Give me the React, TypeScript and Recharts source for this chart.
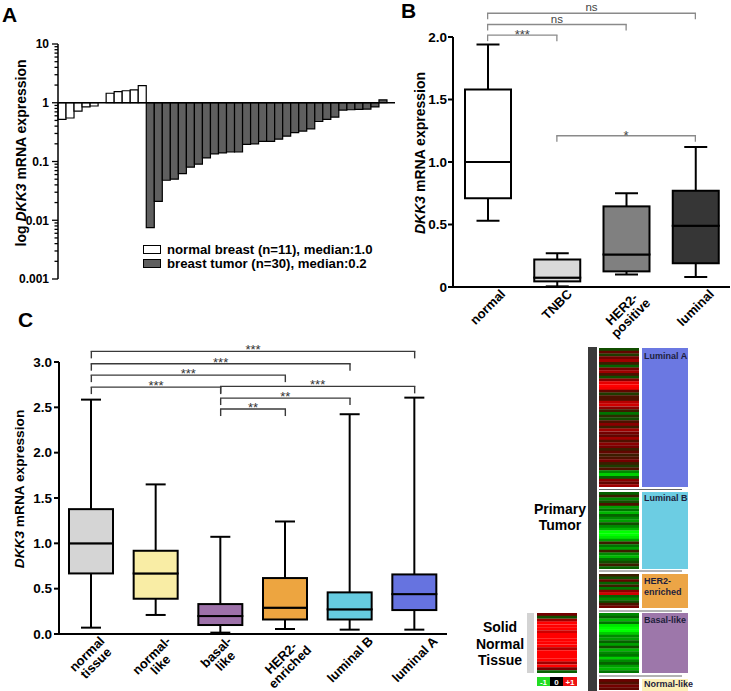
import React from 'react';
import { BarChart, Bar, XAxis, YAxis, ReferenceLine, Legend, Cell } from 'recharts';

const FONT = '"Liberation Sans", Arial, Helvetica, sans-serif';

// ---------------- Panel A data ----------------
const A_NORMAL = [0.52, 0.55, 0.72, 0.85, 0.88, 1.0, 1.45, 1.55, 1.6, 1.65, 1.95];
const A_TUMOR = [0.0075, 0.021, 0.048, 0.05, 0.062, 0.08, 0.09, 0.115, 0.135, 0.14, 0.145, 0.145, 0.195, 0.2, 0.22, 0.22, 0.24, 0.27, 0.31, 0.33, 0.36, 0.48, 0.52, 0.57, 0.75, 0.76, 0.77, 0.78, 0.85, 1.12];
const A_LEGEND = ['normal breast (n=11), median:1.0', 'breast tumor (n=30), median:0.2'];
const A_MAJOR = [0.001, 0.01, 0.1, 1, 10];
const A_MINOR_STEPS = [2, 3, 4, 5, 6, 7, 8, 9];

// ---------------- Panel B data ----------------
const B_CATS = ['normal', 'TNBC', 'HER2-positive', 'luminal'];
const B_TICK_LINES = [['normal'], ['TNBC'], ['HER2-', 'positive'], ['luminal']];
const B_MIN = [0.53, 0.005, 0.1, 0.08];
const B_Q1 = [0.71, 0.045, 0.125, 0.19];
const B_MED = [1.0, 0.075, 0.26, 0.49];
const B_Q3 = [1.58, 0.22, 0.645, 0.77];
const B_MAX = [1.94, 0.27, 0.75, 1.12];
const B_TICKS = [0, 0.5, 1, 1.5, 2];
const B_SIG = [
  { from: 'normal', to: 'luminal', level: 2.19, label: 'ns' },
  { from: 'normal', to: 'HER2-positive', level: 2.1, label: 'ns' },
  { from: 'normal', to: 'TNBC', level: 2.015, label: '***' },
  { from: 'TNBC', to: 'luminal', level: 1.21, label: '*' },
];

// ---------------- Panel C data ----------------
const C_CATS = ['normal tissue', 'normal-like', 'basal-like', 'HER2-enriched', 'luminal B', 'luminal A'];
const C_TICK_LINES = [['normal', 'tissue'], ['normal-', 'like'], ['basal-', 'like'], ['HER2-', 'enriched'], ['luminal B'], ['luminal A']];
const C_MIN = [0.07, 0.21, 0.015, 0.055, 0.048, 0.048];
const C_Q1 = [0.668, 0.389, 0.099, 0.16, 0.16, 0.264];
const C_MED = [1.0, 0.668, 0.198, 0.29, 0.272, 0.44];
const C_Q3 = [1.377, 0.918, 0.33, 0.617, 0.459, 0.657];
const C_MAX = [2.585, 1.65, 1.072, 1.241, 2.424, 2.607];
const C_TICKS = [0, 0.5, 1, 1.5, 2, 2.5, 3];
const C_SIG = [
  { from: 'normal tissue', to: 'luminal A', level: 3.117, label: '***' },
  { from: 'normal tissue', to: 'luminal B', level: 2.981, label: '***' },
  { from: 'normal tissue', to: 'HER2-enriched', level: 2.855, label: '***' },
  { from: 'normal tissue', to: 'basal-like', level: 2.723, label: '***' },
  { from: 'basal-like', to: 'luminal A', level: 2.731, label: '***' },
  { from: 'basal-like', to: 'luminal B', level: 2.602, label: '**' },
  { from: 'basal-like', to: 'HER2-enriched', level: 2.481, label: '**' },
];

// ---------------- Heatmap data (-1 green .. 0 .. +1 red) ----------------
const HEAT_LUM_A = [-0.2, 0.3, -0.1, 0.4, 0.6, 0.1, -0.3, 0.4, 0.6, 0.2, -0.2, 0.5, 0.9, 1.0, 0.95, 0.3, -0.1, 0.2, 0.2, 0.7, 0.8, 0.5, 0.1, -0.4, 0.0, -0.2, 0.2, 0.5, 0.1, 0.6, 0.4, 0.3, 0.6, 0.2, 0.5, 0.4, 0.1, 0.3, 0.1, 0.2, 0.4, 0.1, -0.1, 0.2, -0.5, -0.8, -0.3, 0.5, 0.3, 0.6];
const HEAT_LUM_B = [-0.3, 0.1, -0.5, -0.2, 0.2, -0.6, -0.4, -0.7, -0.3, -0.5, -0.6, -0.2, -0.5, -0.7, -1.0, -1.0, -0.9, -0.6, 0.1, -0.4, -0.6, 0.1, -0.5, -0.7, -0.4, -0.2, 0.1, -0.3];
const HEAT_HER2 = [0.1, -0.2, 0.3, -0.3, 0.1, -0.4, 0.5, 0.8, -0.3, -0.5, -0.2, 0.2, 0.4];
const HEAT_BASAL = [-0.5, -0.3, -0.7, -0.4, -0.9, -1.0, -1.0, -0.8, -0.5, -0.6, -0.3, -0.6, -0.2, -0.7, -0.5, -0.4, -0.8, -0.5, -0.3, -0.6, -0.7, -0.4];
const HEAT_NORMAL_LIKE = [0.35, 0.2, 0.4, 0.3];
const HEAT_NORMAL_TISSUE = [0.4, -0.2, 0.6, 1.0, 1.0, 1.0, 0.8, 1.0, 1.0, 1.0, 1.0, 1.0, 0.7, 1.0, 1.0, 1.0, 1.0, 0.6, 1.0, 0.4, -0.3];

// ---------------- styles ----------------
const A_TUMOR_FILL = '#5f5f5f';
const B_FILLS = ['#ffffff', '#d9d9d9', '#808080', '#363636'];
const C_FILLS = ['#d5d5d5', '#f9eda5', '#9d71a9', '#eda540', '#66cbe0', '#6673e0'];

const clamp = (x: number) => Math.max(0, Math.min(1, x));
const heatColor = (v: number) => {
  const r = Math.round(255 * Math.pow(clamp((v + 0.4) / 1.4), 1.4));
  const g = Math.round(255 * Math.pow(clamp((0.4 - v) / 1.4), 1.4));
  return `rgb(${r},${g},0)`;
};

const BW: Record<string, number> = {
  a: 0.556, b: 0.611, c: 0.556, d: 0.611, e: 0.556, f: 0.333, g: 0.611, h: 0.611, i: 0.278, k: 0.556, l: 0.278,
  m: 0.889, n: 0.611, o: 0.611, p: 0.611, r: 0.389, s: 0.556, t: 0.333, u: 0.611, v: 0.556, y: 0.556,
  A: 0.722, B: 0.722, C: 0.722, E: 0.667, H: 0.722, N: 0.722, R: 0.722, T: 0.611, '-': 0.333, ' ': 0.278, '2': 0.556,
};
const textW = (s: string, fs: number) => s.split('').reduce((acc, ch) => acc + (BW[ch] ?? 0.6), 0) * fs;

// ---------------- helpers ----------------
const yTitle = (x: number, y: number, prefix: string, fs: number) => () => (
  <text x={x} y={y} transform={`rotate(-90 ${x} ${y})`} textAnchor="middle" dominantBaseline="central"
    fontFamily={FONT} fontWeight="bold" fontSize={fs} fill="#000">
    {prefix}<tspan fontStyle="italic">DKK3</tspan> mRNA expression
  </text>
);

const makeXTick = (cats: string[], lines: string[][], fs: number) => (p: any) => {
  const idx = cats.indexOf(p.payload.value);
  const ls = lines[idx] || [String(p.payload.value)];
  const lh = fs * 0.98;
  const W = Math.max(...ls.map((l) => textW(l, fs)));
  const H = (ls.length - 1) * lh + fs * 0.9;
  const off = 0.5 + (0.7071 * (W + H)) / 2;
  return (
    <g transform={`translate(${p.x},${p.y + off})`}>
      <text transform="rotate(-45)" textAnchor="middle" fontFamily={FONT} fontWeight="bold" fontSize={fs} fill="#000">
        {ls.map((l, i) => (
          <tspan key={i} x={0} y={(i - (ls.length - 1) / 2) * lh} dy="0.35em">{l}</tspan>
        ))}
      </text>
    </g>
  );
};

const Whisker = ({ x, y, width, height, cap, sw, end }: any) => {
  if (x == null || y == null || !isFinite(height)) return null;
  const cx = x + width / 2;
  const yc = end === 'top' ? y : y + height;
  return (
    <g>
      <line x1={cx} x2={cx} y1={y} y2={y + height} stroke="#000" strokeWidth={sw} />
      <line x1={cx - cap / 2} x2={cx + cap / 2} y1={yc} y2={yc} stroke="#000" strokeWidth={sw} />
    </g>
  );
};

const boxBars = (cats: string[], fills: string[], cap: number, sw: number) => {
  const fillOf = (p: any) => fills[Math.max(0, cats.indexOf(p?.payload?.cat))] ?? fills[p.index] ?? '#fff';
  const boxShape = (p: any) =>
    p.height > 0 || p.height < 0 ? (
      <rect x={p.x} y={p.y} width={p.width} height={Math.abs(p.height)} fill={fillOf(p)} stroke="#000" strokeWidth={sw} />
    ) : null;
  return [
    <Bar key="base" dataKey="base" stackId="box" fill="transparent" stroke="none" isAnimationActive={false} />,
    <Bar key="wl" dataKey="wLow" stackId="box" isAnimationActive={false} shape={(p: any) => <Whisker {...p} cap={cap} sw={sw} end="bottom" />} />,
    <Bar key="bl" dataKey="boxLow" stackId="box" isAnimationActive={false} shape={boxShape} />,
    <Bar key="bh" dataKey="boxHigh" stackId="box" isAnimationActive={false} shape={boxShape} />,
    <Bar key="wh" dataKey="wHigh" stackId="box" isAnimationActive={false} shape={(p: any) => <Whisker {...p} cap={cap} sw={sw} end="top" />} />,
  ];
};

const sigLabel = (text: string, dy: number, fs: number, color: string, weight: string) => (props: any) => {
  const vb = props.viewBox || {};
  const x = (vb.x ?? 0) + (vb.width ?? 0) / 2;
  const y = (vb.y ?? 0) + dy;
  return (
    <text x={x} y={y} textAnchor="middle" fontFamily={FONT} fontSize={fs} fontWeight={weight} fill={color}>{text}</text>
  );
};

const sigLines = (sig: any[], drop: number, color: string, sw: number, opts: { starDy: number; nsDy: number; starFs: number; nsFs: number; textColor: string }) =>
  sig.flatMap((s, i) => [
    <ReferenceLine key={`h${i}`} segment={[{ x: s.from, y: s.level }, { x: s.to, y: s.level }]} stroke={color} strokeWidth={sw}
      strokeLinecap="square" ifOverflow="visible"
      label={sigLabel(s.label, s.label === 'ns' ? opts.nsDy : opts.starDy, s.label === 'ns' ? opts.nsFs : opts.starFs, opts.textColor, 'normal')} />,
    <ReferenceLine key={`l${i}`} segment={[{ x: s.from, y: s.level }, { x: s.from, y: s.level - drop }]} stroke={color} strokeWidth={sw} ifOverflow="visible" />,
    <ReferenceLine key={`r${i}`} segment={[{ x: s.to, y: s.level }, { x: s.to, y: s.level - drop }]} stroke={color} strokeWidth={sw} ifOverflow="visible" />,
  ]);

const boxTable = (cats: string[], mn: number[], q1: number[], md: number[], q3: number[], mx: number[]) =>
  cats.map((c, i) => ({
    cat: c,
    base: mn[i],
    wLow: q1[i] - mn[i],
    boxLow: md[i] - q1[i],
    boxHigh: q3[i] - md[i],
    wHigh: mx[i] - q3[i],
  }));

const numTickStyle = { fill: '#000', fontSize: 13.5, fontWeight: 'bold', fontFamily: FONT } as any;

// ---------------- Panel A ----------------
const aData = [
  ...A_NORMAL.map((v, i) => ({ id: `N${i + 1}`, group: 'normal', range: [1, v] })),
  ...A_TUMOR.map((v, i) => ({ id: `T${i + 1}`, group: 'tumor', range: [1, v] })),
];
const aTicks = [
  ...A_MAJOR,
  ...A_MAJOR.slice(0, -1).flatMap((d) => A_MINOR_STEPS.map((s) => Number((d * s).toPrecision(3)))),
].sort((a, b) => a - b);

const ATick = (p: any) => {
  const v = p.payload.value;
  const ax = p.x;
  const major = A_MAJOR.includes(v);
  return (
    <g>
      <line x1={ax - (major ? 6 : 3.5)} x2={ax} y1={p.y} y2={p.y} stroke="#000" strokeWidth={1.3} />
      {major && (
        <text x={ax - 9} y={p.y} dy="0.36em" textAnchor="end" fontFamily={FONT} fontWeight="bold" fontSize={12} fill="#000">
          {String(v)}
        </text>
      )}
    </g>
  );
};

const ALegend = () => (
  <div style={{ fontFamily: FONT, fontWeight: 700, fontSize: 13.2, color: '#000' }}>
    {A_LEGEND.map((t, i) => (
      <div key={i} style={{ display: 'flex', alignItems: 'center', height: 14, whiteSpace: 'nowrap' }}>
        <span style={{ display: 'inline-block', width: 16, height: 7, border: '1.5px solid #000', background: i === 0 ? '#fff' : A_TUMOR_FILL, marginRight: 6 }} />
        {t}
      </div>
    ))}
  </div>
);

const PanelA = () => (
  <BarChart width={400} height={290} data={aData} margin={{ top: 44, right: 5, bottom: 11, left: 0 }} barCategoryGap={0} barGap={0}>
    <XAxis dataKey="id" hide padding={{ left: 0, right: 8 }} />
    <YAxis type="number" scale="log" domain={[0.001, 10]} allowDataOverflow ticks={aTicks} interval={0} width={58}
      axisLine={{ stroke: '#000', strokeWidth: 1.5 }} tickLine={false} tickSize={0} tickMargin={0} tick={ATick}
      label={yTitle(21, 153, 'log ', 14)} />
    <Bar dataKey="range" isAnimationActive={false} stroke="#000" strokeWidth={1.2}>
      {aData.map((d, i) => (
        <Cell key={i} fill={d.group === 'normal' ? '#ffffff' : A_TUMOR_FILL} />
      ))}
    </Bar>
    <ReferenceLine y={1} stroke="#000" strokeWidth={1.6} ifOverflow="visible" />
    <Legend verticalAlign="middle" align="center" layout="horizontal"
      wrapperStyle={{ left: 143, top: 242, width: 260, height: 30 }} content={() => <ALegend />} />
  </BarChart>
);

// ---------------- Panel B ----------------
const bData = boxTable(B_CATS, B_MIN, B_Q1, B_MED, B_Q3, B_MAX);
const PanelB = () => (
  <BarChart width={361} height={345} data={bData} margin={{ top: 37, right: 1, bottom: 0, left: 0 }} barSize={46}>
    <XAxis dataKey="cat" height={58} interval={0} axisLine={{ stroke: '#000', strokeWidth: 2 }} tickLine={false} tickSize={0} tickMargin={0}
      tick={makeXTick(B_CATS, B_TICK_LINES, 13)} />
    <YAxis type="number" domain={[0, 2]} ticks={B_TICKS} interval={0} width={83}
      axisLine={{ stroke: '#000', strokeWidth: 2 }} tickLine={{ stroke: '#000', strokeWidth: 2 }} tickSize={5} tickMargin={1}
      tick={numTickStyle} tickFormatter={(v: number) => (v === 0 ? '0' : v.toFixed(1))}
      label={yTitle(50, 153, '', 14)} />
    {boxBars(B_CATS, B_FILLS, 23, 2)}
    {sigLines(B_SIG, 0.048, '#8a8a8a', 1.3, { starDy: 4, nsDy: -2, starFs: 13, nsFs: 11.5, textColor: '#444' })}
  </BarChart>
);

// ---------------- Panel C ----------------
const cData = boxTable(C_CATS, C_MIN, C_Q1, C_MED, C_Q3, C_MAX);
const PanelC = () => (
  <BarChart width={460} height={361} data={cData} margin={{ top: 32, right: 13, bottom: 0, left: 0 }} barSize={44}>
    <XAxis dataKey="cat" height={57} interval={0} axisLine={{ stroke: '#000', strokeWidth: 2 }} tickLine={false} tickSize={0} tickMargin={0}
      tick={makeXTick(C_CATS, C_TICK_LINES, 13)} />
    <YAxis type="number" domain={[0, 3]} ticks={C_TICKS} interval={0} width={59}
      axisLine={{ stroke: '#000', strokeWidth: 2 }} tickLine={{ stroke: '#000', strokeWidth: 2 }} tickSize={5} tickMargin={2}
      tick={numTickStyle} tickFormatter={(v: number) => v.toFixed(1)}
      label={yTitle(19, 159, '', 13.7)} />
    {boxBars(C_CATS, C_FILLS, 20, 2)}
    {sigLines(C_SIG, 0.077, '#3a3a3a', 1.4, { starDy: 3, nsDy: -2, starFs: 13, nsFs: 11.5, textColor: '#333' })}
  </BarChart>
);

// ---------------- Heatmap strips ----------------
const HeatStrip = ({ values, left, top, width, height }: { values: number[]; left: number; top: number; width: number; height: number }) => {
  const data = values.map((v, i) => ({ row: i, v, full: 1 }));
  return (
    <div style={{ position: 'absolute', left, top, width, height }}>
      <BarChart layout="vertical" width={width} height={height} data={data} margin={{ top: 0, right: 0, bottom: 0, left: 0 }} barCategoryGap={0} barGap={0}>
        <XAxis type="number" hide domain={[0, 1]} />
        <YAxis type="category" dataKey="row" hide />
        <Bar dataKey="full" isAnimationActive={false}>
          {data.map((d, i) => (
            <Cell key={i} fill={heatColor(d.v)} />
          ))}
        </Bar>
      </BarChart>
    </div>
  );
};

const Overlay = () => (
  <svg width={731} height={691} style={{ position: 'absolute', left: 0, top: 0, pointerEvents: 'none' }}>
    <g fontFamily={FONT} fontWeight="bold" fill="#000">
      <text x={2} y={22} fontSize={21}>A</text>
      <text x={401} y={18} fontSize={21}>B</text>
      <text x={18} y={327} fontSize={21}>C</text>
    </g>
    <rect x={588} y={347} width={9} height={344} fill="#3b3b3b" />
    <rect x={527} y={613} width={7} height={60} fill="#d3d3d3" />
    <rect x={642} y={348} width={46} height={139} fill="#6b78e2" />
    <rect x={642} y={492} width={46} height={77} fill="#6ccde3" />
    <rect x={642} y={574} width={46} height={34} fill="#eca546" />
    <rect x={642} y={613} width={46} height={60} fill="#9d77aa" />
    <rect x={642} y={679} width={46} height={12} fill="#fcf0b8" />
    {[489.5, 571, 611, 676].map((y) => (
      <line key={y} x1={599} x2={682} y1={y} y2={y} stroke="#666" strokeWidth={1} />
    ))}
    <g fontFamily={FONT} fontWeight="bold" fontSize={9} fill="#1e1e3c">
      <text x={644} y={359}>Luminal A</text>
      <text x={644} y={501}>Luminal B</text>
      <text x={644} y={583.5}>HER2-</text>
      <text x={644} y={594.5}>enriched</text>
      <text x={644} y={623}>Basal-like</text>
      <text x={644} y={687}>Normal-like</text>
    </g>
    <g fontFamily={FONT} fontWeight="bold" fontSize={14} fill="#000" textAnchor="middle">
      <text x={560} y={514}>Primary</text>
      <text x={560} y={530}>Tumor</text>
      <text x={500} y={632}>Solid</text>
      <text x={500} y={648.5}>Normal</text>
      <text x={500} y={665}>Tissue</text>
    </g>
    <rect x={537} y={677} width={13} height={9} fill="#22dd22" />
    <rect x={550} y={677} width={13} height={9} fill="#000" />
    <rect x={563} y={677} width={14} height={9} fill="#ee1111" />
    <g fontFamily={FONT} fontWeight="bold" fontSize={8} fill="#fff" textAnchor="middle">
      <text x={543.5} y={684.5}>-1</text>
      <text x={556.5} y={684.5}>0</text>
      <text x={570} y={684.5}>+1</text>
    </g>
  </svg>
);

export default function App() {
  return (
    <div style={{ position: 'absolute', left: 0, top: 0, width: 731, height: 691, background: '#fff', overflow: 'hidden' }}>
      <div style={{ position: 'absolute', left: 0, top: 0 }}><PanelA /></div>
      <div style={{ position: 'absolute', left: 370, top: 0 }}><PanelB /></div>
      <div style={{ position: 'absolute', left: 0, top: 330 }}><PanelC /></div>
      <HeatStrip values={HEAT_LUM_A} left={599} top={348} width={40} height={139} />
      <HeatStrip values={HEAT_LUM_B} left={599} top={492} width={40} height={77} />
      <HeatStrip values={HEAT_HER2} left={599} top={574} width={40} height={34} />
      <HeatStrip values={HEAT_BASAL} left={599} top={613} width={40} height={60} />
      <HeatStrip values={HEAT_NORMAL_LIKE} left={599} top={679} width={40} height={11} />
      <HeatStrip values={HEAT_NORMAL_TISSUE} left={537} top={613} width={40} height={60} />
      <Overlay />
    </div>
  );
}
